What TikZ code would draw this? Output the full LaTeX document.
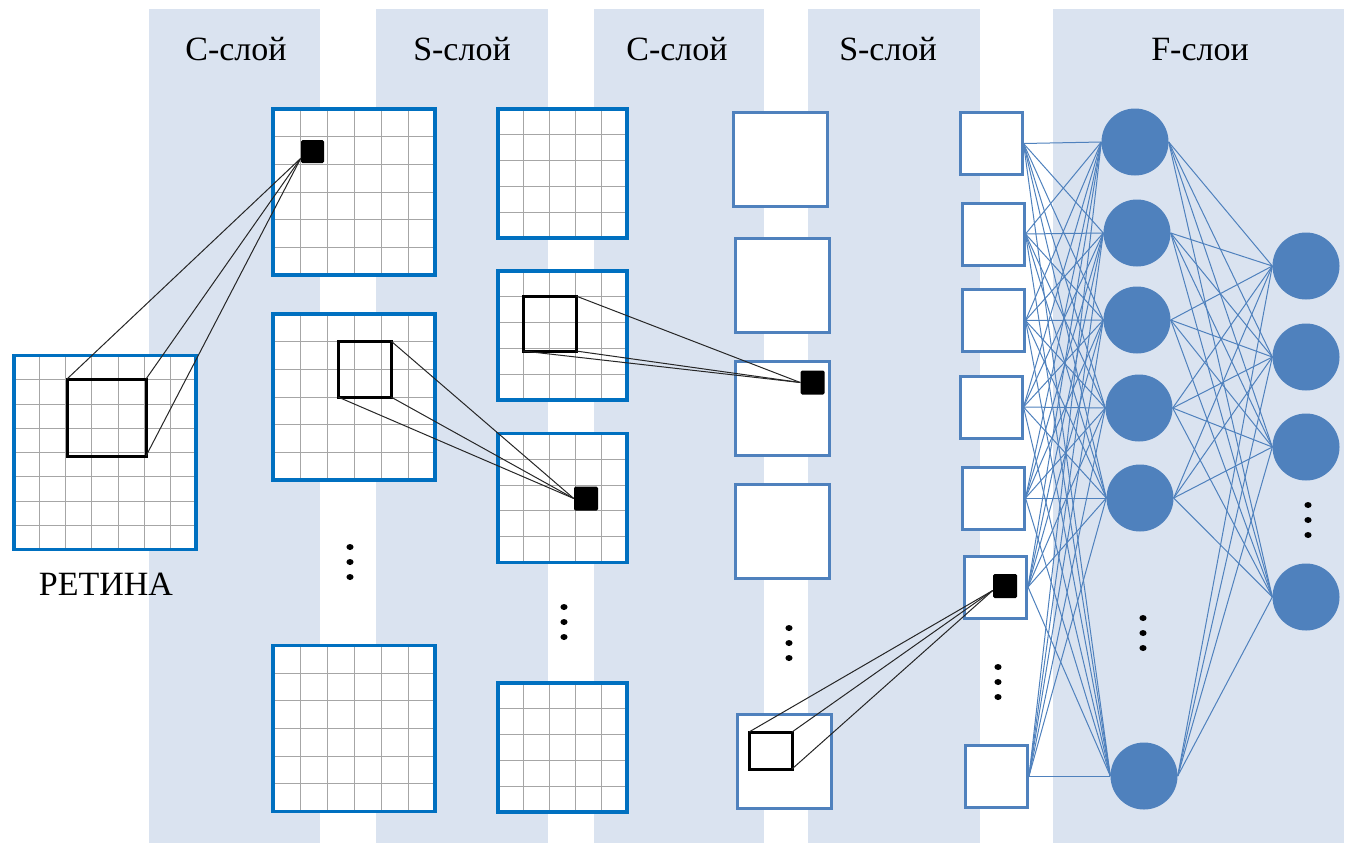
\documentclass[tikz,border=0pt]{standalone}
\usepackage{fontspec}
\setmainfont{Liberation Serif}
\usetikzlibrary{calc}

\definecolor{bandblue}{HTML}{DAE3F0}
\definecolor{mapblue}{HTML}{0070C0}
\definecolor{boxblue}{HTML}{4F81BD}
\definecolor{gridgray}{HTML}{A6A6A6}

\begin{document}
\begin{tikzpicture}[
  x=1pt, y=-1pt,
  band/.style={fill=bandblue},
  lbl/.style={font=\fontsize{34}{40}\selectfont, anchor=base},
  gridline/.style={draw=gridgray, line width=1pt},
  gmap/.style 2 args={
    draw=mapblue, line width=3.5pt, fill=white, inner sep=0pt,
    path picture={
      \foreach \k in {1,...,#1}
        \draw[gridline] ($(path picture bounding box.north west)!\k/#1!(path picture bounding box.north east)$)
          -- ($(path picture bounding box.south west)!\k/#1!(path picture bounding box.south east)$);
      \foreach \k in {1,...,#2}
        \draw[gridline] ($(path picture bounding box.north west)!\k/#2!(path picture bounding box.south west)$)
          -- ($(path picture bounding box.north east)!\k/#2!(path picture bounding box.south east)$);
    }
  },
  cmap/.style={gmap={6}{6}, minimum width=162pt, minimum height=166pt},
  smap/.style={gmap={5}{5}, minimum size=129pt},
  pbox/.style={draw=boxblue, line width=3pt, fill=white, inner sep=0pt, minimum size=94pt},
  sbox/.style={draw=boxblue, line width=3pt, fill=white, inner sep=0pt, minimum size=62pt},
  neuron/.style={circle, fill=boxblue, inner sep=0pt, minimum size=67pt},
  cell/.style={fill=black, inner sep=0pt, minimum size=24pt, rounded corners=1.5pt},
  win/.style={draw=black, line width=3pt, inner sep=0pt, outer sep=0pt},
  fan/.style={draw=black!85, line width=1pt},
  link/.style={draw=boxblue, line width=1pt}
]
\useasboundingbox (0,0) rectangle (1354,855);

% background bands
\fill[band] (149,9) rectangle (320,843);
\fill[band] (376,9) rectangle (548,843);
\fill[band] (594,9) rectangle (764,843);
\fill[band] (808,9) rectangle (980,843);
\fill[band] (1053,9) rectangle (1344,843);

% layer titles
\node[lbl] (t1) at (236,60) {C-слой};
\node[lbl] (t2) at (462,60) {S-слой};
\node[lbl] (t3) at (677,60) {C-слой};
\node[lbl] (t4) at (888,60) {S-слой};
\node[lbl] (t5) at (1200,60) {F-слои};

% retina
\node[gmap={7}{8}, minimum width=182pt, minimum height=194pt] (ret) at (105,452.5) {};
\node[lbl] (retlbl) at (106,595) {РЕТИНА};

% first C layer
\node[cmap] (c1) at (354,192) {};
\node[cmap] (c2) at (354,397) {};
\node[cmap] (c3) at (354,728.5) {};

% first S layer
\node[smap] (s1) at (562.5,173.5) {};
\node[smap] (s2) at (562.5,335.5) {};
\node[smap] (s3) at (562.5,498) {};
\node[smap] (s4) at (562.5,747.5) {};

% second C layer
\node[pbox] (p1) at (780.5,159) {};
\node[pbox] (p2) at (782.5,285.5) {};
\node[pbox] (p3) at (782.5,408.5) {};
\node[pbox] (p4) at (782.5,531.5) {};
\node[pbox] (p5) at (784,761.5) {};

% second S layer
\foreach \x/\y [count=\i] in {991/143.5, 993/234, 993/320.5, 991/407, 993/498, 995.5/587, 996.5/776}
  \node[sbox] (q\i) at (\x,\y) {};

% F layers
\foreach \x/\y [count=\i] in {1135/142, 1137/233, 1137/320, 1139/408, 1140/498, 1144/776}
  \node[neuron] (n\i) at (\x,\y) {};
\foreach \y [count=\i] in {266, 357, 447, 597}
  \node[neuron] (m\i) at (1306,\y) {};

\foreach \i in {1,...,7}
  \foreach \j in {1,...,6}
    \draw[link] (q\i.east) -- (n\j.west);
\foreach \i in {1,...,6}
  \foreach \j in {1,...,4}
    \draw[link] (n\i.east) -- (m\j.west);

% receptive windows and target cells
\node[win, minimum width=79pt, minimum height=77pt] (w1) at (106.5,417.5) {};
\node[win, minimum width=53pt, minimum height=56pt] (w2) at (364.5,369) {};
\node[win, minimum width=53pt, minimum height=55pt] (w3) at (549.5,323.5) {};
\node[win, minimum width=43pt, minimum height=37pt] (w4) at (770.5,750.5) {};
\node[cell, minimum size=23pt] (b1) at (312.5,151.5) {};
\node[cell] (b2) at (586,498.5) {};
\node[cell] (b3) at (812.5,382.5) {};
\node[cell] (b4) at (1005,586) {};

\draw[fan] (w1.north west) -- (b1.210);
\draw[fan] (w1.north east) -- (b1.210);
\draw[fan] (w1.south east) -- (b1.210);
\draw[fan] (w2.north east) -- (b2.west);
\draw[fan] (w2.south east) -- (b2.west);
\draw[fan] (w2.south west) -- (b2.west);
\draw[fan] (w3.north east) -- (b3.west);
\draw[fan] (w3.south east) -- (b3.west);
\draw[fan] (w3.south west) -- (b3.west);
\draw[fan] (w4.north west) -- (b4.200);
\draw[fan] (w4.north east) -- (b4.200);
\draw[fan] (w4.south east) -- (b4.200);

% vertical dots
\foreach \x/\y in {350/547, 564/607, 789/628, 998/667, 1143/618, 1308/505}
  \foreach \k in {0,1,2}
    \fill (\x,{\y+15*\k}) ellipse [x radius=3.6, y radius=3];

\end{tikzpicture}
\end{document}
